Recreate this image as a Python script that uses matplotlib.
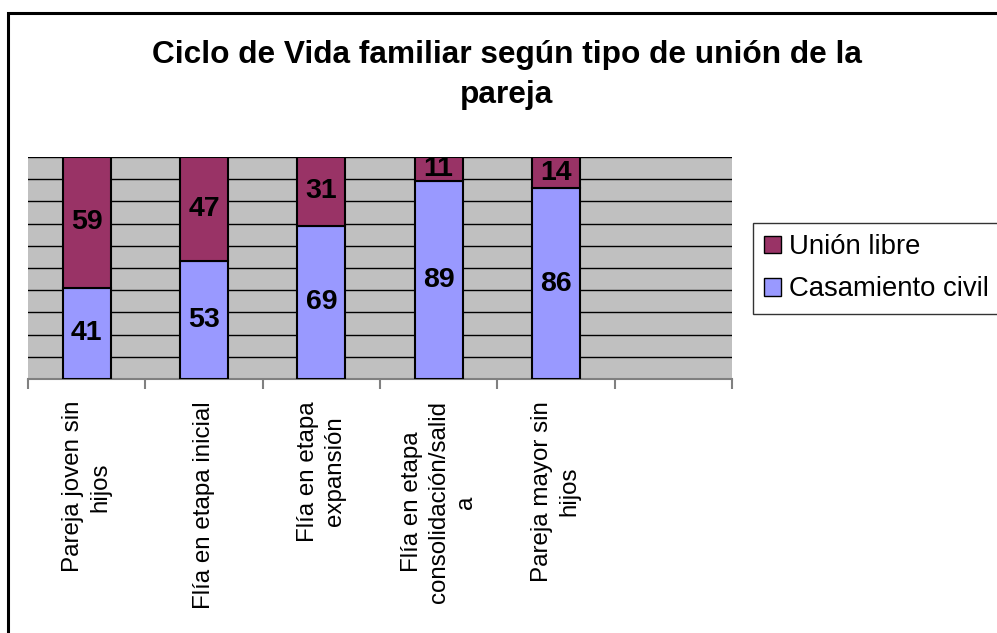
import matplotlib
matplotlib.use("Agg")
import matplotlib.pyplot as plt
from matplotlib.patches import Rectangle, Patch
import matplotlib.transforms as mtransforms

plt.rcParams['font.family'] = ['Liberation Sans', 'DejaVu Sans']

categories = ["Pareja joven sin\nhijos", "Flía en etapa inicial", "Flía en etapa\nexpansión",
              "Flía en etapa\nconsolidación/salid\na", "Pareja mayor sin\nhijos", ""]
casamiento = [41, 53, 69, 89, 86]
union_libre = [59, 47, 31, 11, 14]
series_names = ["Unión libre", "Casamiento civil"]
title = "Ciclo de Vida familiar según tipo de unión de la\npareja"

c_union = "#993366"
c_casa = "#9999FF"

W, H = 997, 633
fig = plt.figure(figsize=(W / 100, H / 100), dpi=100)
fig.patch.set_facecolor("white")

# outer frame
fig.patches.append(Rectangle((8 / W, -0.1), 1.2, 1 - 13 / H + 0.1, transform=fig.transFigure,
                             fill=False, edgecolor="black", linewidth=2.2))

left, right, top, bottom = 28, 732, 157, 379
ax = fig.add_axes([left / W, 1 - bottom / H, (right - left) / W, (bottom - top) / H])
ax.set_facecolor("#C0C0C0")
ax.set_xlim(0, len(categories))
ax.set_ylim(0, 100)
ax.set_yticks(range(10, 101, 10))
ax.yaxis.grid(True, color="black", linewidth=1.0)
ax.set_axisbelow(True)
ax.tick_params(axis="y", left=False, labelleft=False)
for s in ["left", "top", "right"]:
    ax.spines[s].set_visible(False)
ax.spines["bottom"].set_color("#808080")
ax.spines["bottom"].set_linewidth(1.5)
ax.set_xticks(range(len(categories) + 1))
ax.set_xticklabels([])
ax.tick_params(axis="x", direction="out", length=7, width=1.5, color="#808080")

xs = [i + 0.5 for i in range(len(casamiento))]
bw = 0.41
ax.bar(xs, casamiento, width=bw, color=c_casa, edgecolor="black", linewidth=1.5, zorder=3)
ax.bar(xs, union_libre, width=bw, bottom=casamiento, color=c_union, edgecolor="black",
       linewidth=1.5, zorder=3)
for x, a, b in zip(xs, casamiento, union_libre):
    ax.text(x, a / 2, str(a), ha="center", va="center", fontsize=20.5, fontweight="bold", zorder=4)
    ax.text(x, a + b / 2, str(b), ha="center", va="center", fontsize=20.5, fontweight="bold", zorder=4)

trans = mtransforms.blended_transform_factory(ax.transData, ax.transAxes)
for i, lab in enumerate(categories):
    ax.text(i + 0.5, -22 / (bottom - top), lab, transform=trans, rotation=90, ha="center", va="top",
            multialignment="center", fontsize=17.4, linespacing=1.3)

fig.text(507 / W, 1 - 40 / H, title, ha="center", va="top", fontsize=22.8, fontweight="bold",
         linespacing=1.45)

handles = [Patch(facecolor=c_union, edgecolor="black"), Patch(facecolor=c_casa, edgecolor="black")]
leg = fig.legend(handles, series_names, loc="upper left", bbox_to_anchor=(753 / W, 1 - 223 / H),
                 fontsize=19.8, frameon=True, fancybox=False, handlelength=0.6, handleheight=0.6,
                 handletextpad=0.3, borderpad=0.4, labelspacing=0.6, borderaxespad=0)
leg.get_frame().set_edgecolor("black")
leg.get_frame().set_linewidth(1.0)

fig.savefig("out.png", dpi=100)
